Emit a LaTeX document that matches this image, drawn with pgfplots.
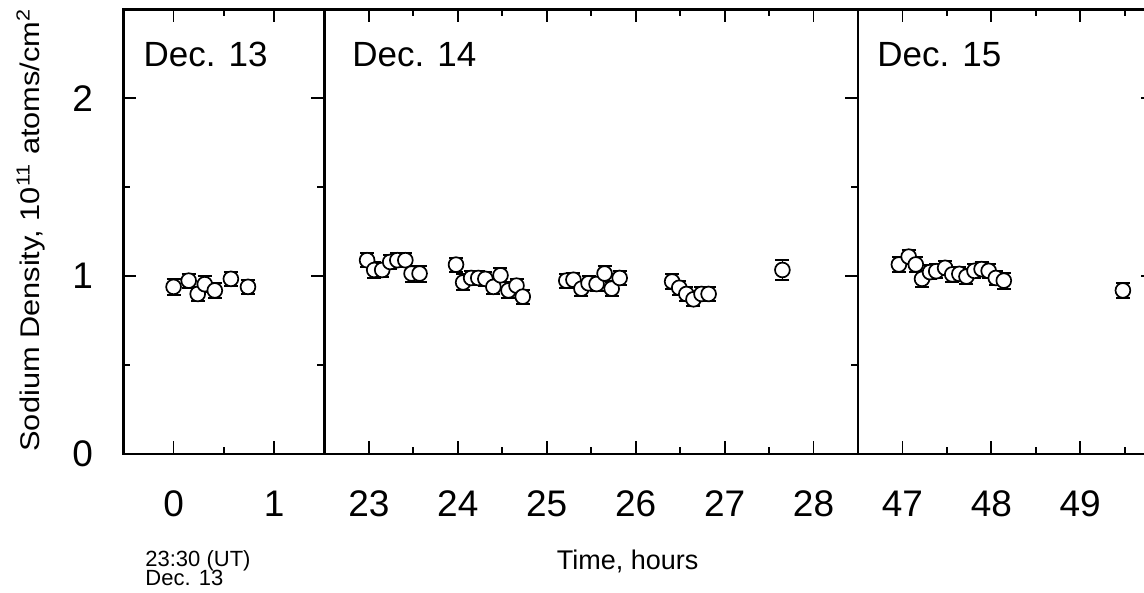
\documentclass[border=0pt]{standalone}
\usepackage{fontspec}
\setmainfont{Liberation Sans}
\usepackage{graphicx}
\usepackage{pgfplots}
\pgfplotsset{compat=1.18}
\usepackage{pgfplotstable}

% Sodium column density (10^11 atoms/cm^2) with 1-sigma errors
\pgfplotstableread{
x     y      e
0.00  0.940  0.045
0.15  0.975  0.040
0.24  0.900  0.040
0.31  0.955  0.045
0.41  0.920  0.040
0.57  0.985  0.040
0.74  0.940  0.040
}\dayone

\pgfplotstableread{
x      y      e
22.98  1.090  0.040
23.06  1.035  0.045
23.15  1.035  0.040
23.24  1.080  0.040
23.32  1.090  0.040
23.41  1.090  0.040
23.48  1.015  0.045
23.57  1.015  0.045
23.98  1.065  0.040
24.06  0.965  0.045
24.15  0.990  0.040
24.23  0.990  0.040
24.31  0.985  0.040
24.40  0.940  0.040
24.48  1.005  0.040
24.57  0.920  0.045
24.66  0.947  0.040
24.73  0.885  0.040
25.22  0.975  0.040
25.30  0.980  0.040
25.39  0.930  0.040
25.47  0.960  0.040
25.56  0.956  0.040
25.65  1.015  0.040
25.73  0.930  0.040
25.82  0.990  0.040
26.41  0.970  0.040
26.49  0.935  0.040
26.57  0.900  0.040
26.65  0.870  0.040
26.74  0.900  0.040
26.82  0.900  0.040
27.65  1.035  0.055
}\daytwo

\pgfplotstableread{
x      y      e
46.96  1.066  0.040
47.07  1.110  0.040
47.15  1.066  0.040
47.22  0.985  0.045
47.31  1.023  0.040
47.38  1.028  0.040
47.48  1.047  0.040
47.56  1.010  0.040
47.64  1.013  0.040
47.72  0.998  0.040
47.81  1.030  0.040
47.89  1.040  0.040
47.97  1.030  0.040
48.05  0.990  0.040
48.14  0.975  0.045
49.48  0.920  0.040
}\daythree

\pgfplotsset{
  napanel/.style={
    scale only axis, height=222.25pt, ymin=0, ymax=2.5,
    axis line style={line width=1.3pt},
    tick align=inside, major tick length=6.5pt, minor tick length=3.5pt,
    tick style={black, line width=0.9pt},
    xtick pos=both, xticklabel pos=lower,
    /pgf/number format/assume math mode=true,
    xticklabel style={font=\fontsize{18.5}{20}\selectfont, anchor=base, inner sep=0pt, yshift=-31.5pt},
    ytick={0,1,2}, minor ytick={0.5,1.5},
    clip=false,
  },
  napts/.style={only marks, mark=*, mark size=3.7pt,
    mark options={fill=white, draw=black, line width=0.85pt},
    error bars/.cd, y dir=both, y explicit, error mark=|,
    error bar style={line width=0.8pt, black},
    error mark options={black, mark size=3.5pt, line width=1pt}},
}

\begin{document}
\begin{tikzpicture}
% Dec. 13
\begin{axis}[napanel, at={(61.65pt,69.5pt)}, anchor=south west, width=100.55pt,
  xmin=-0.5, xmax=1.5, xtick={0,1}, minor xtick={0.5},
  ytick pos=both, yticklabel pos=left,
  yticklabel style={font=\fontsize{18.5}{20}\selectfont, anchor=east, inner sep=0pt, xshift=-15pt}]
  \addplot[napts] table[x=x, y=y, y error=e] {\dayone};
\end{axis}
% Dec. 14
\begin{axis}[napanel, at={(162.2pt,69.5pt)}, anchor=south west, width=266.8pt,
  xmin=22.5, xmax=28.5, xtick={23,...,28}, minor xtick={23.5,24.5,...,27.5},
  ytick pos=right, yticklabels={}]
  \addplot[napts] table[x=x, y=y, y error=e] {\daytwo};
\end{axis}
% Dec. 15
\begin{axis}[napanel, at={(429pt,69.5pt)}, anchor=south west, width=148pt,
  xmin=46.5, xmax=49.83, xtick={47,48,49}, minor xtick={47.5,48.5,49.5},
  ytick pos=right, yticklabels={}]
  \addplot[napts] table[x=x, y=y, y error=e] {\daythree};
\end{axis}

\begin{scope}[every node/.style={inner sep=0pt}]
  \node[anchor=base west, font=\fontsize{17.5}{20}\selectfont] at (71.65pt,263.15pt) {Dec. 13};
  \node[anchor=base west, font=\fontsize{17.5}{20}\selectfont] at (176pt,263.15pt) {Dec. 14};
  \node[anchor=base west, font=\fontsize{17.5}{20}\selectfont] at (438.5pt,263.15pt) {Dec. 15};
  \node[anchor=base, font=\fontsize{13.5}{15}\selectfont] at (313.85pt,11.5pt) {Time, hours};
  \node[anchor=base west, font=\fontsize{11}{12}\selectfont] at (72.5pt,13.4pt) {23:30 (UT)};
  \node[anchor=base west, font=\fontsize{11}{12}\selectfont] at (72.5pt,3.5pt) {Dec. 13};
  \node[anchor=base, rotate=90, font=\fontsize{13.5}{15}\selectfont] at (20pt,181.5pt)
    {\scalebox{1.14}[1]{Sodium Density, 10\textsuperscript{11} atoms/cm\textsuperscript{2}}};
\end{scope}

\pgfresetboundingbox
\path[use as bounding box] (0,0) rectangle (572pt,296.5pt);
\end{tikzpicture}
\end{document}
